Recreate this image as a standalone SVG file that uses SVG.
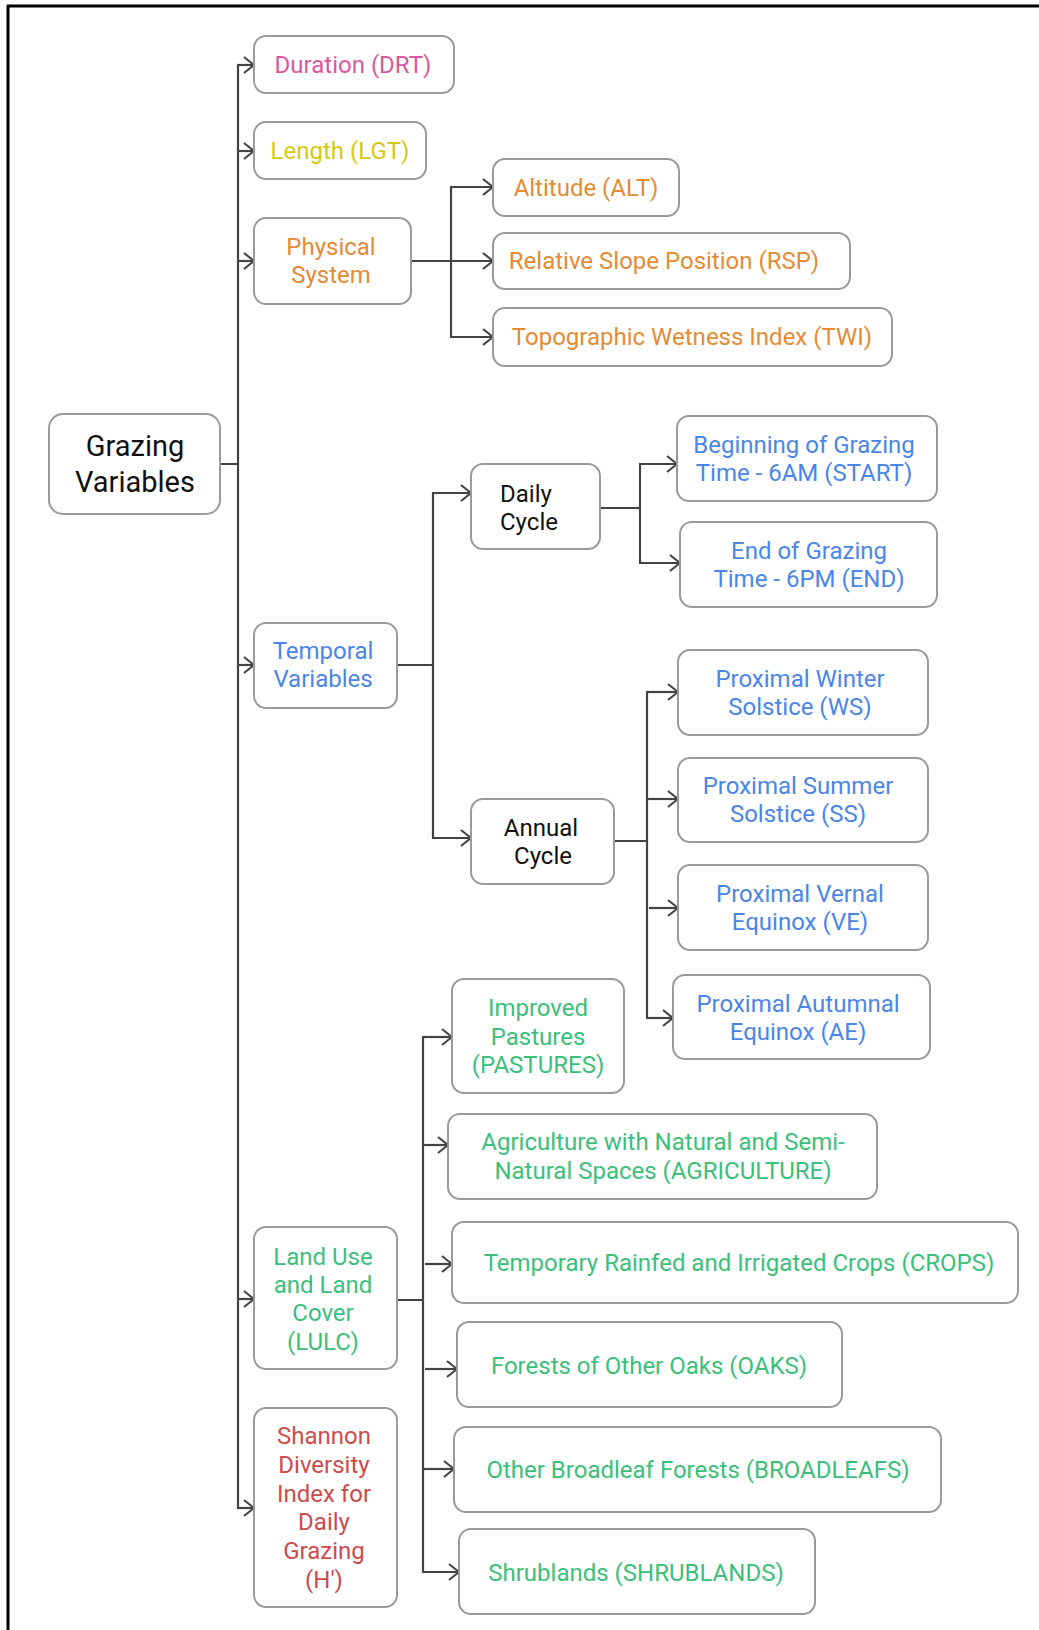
<svg xmlns="http://www.w3.org/2000/svg" width="1039" height="1630" viewBox="0 0 1039 1630">
<defs>
<style>
.box{fill:#fff;stroke:#9a9a9a;stroke-width:2}
.t{font-family:Roboto,"Liberation Sans",sans-serif;font-size:24px;text-anchor:middle}
.k{fill:#111}
.pink{fill:#d9589f}
.yel{fill:#d5c912}
.org{fill:#e38b35}
.blue{fill:#4a86e8}
.green{fill:#3bbf7a}
.red{fill:#cc4b4c}
.c{fill:none;stroke:#444;stroke-width:2.2}
.a{fill:none;stroke:#444;stroke-width:2.2;marker-end:url(#arr)}
</style>
<marker id="arr" markerUnits="userSpaceOnUse" viewBox="0 0 12 18" markerWidth="12" markerHeight="18" refX="11" refY="9" orient="auto">
<path d="M1,1 L11,9 L1,17" fill="none" stroke="#444" stroke-width="2.2"/>
</marker>
</defs>
<rect width="1039" height="1630" fill="#fff"/>
<g id="frame">
<path d="M7 6 H1039 M8 5 V1630" stroke="#000" stroke-width="3" fill="none"/>
</g>
<g id="connectors">
<path class="c" d="M220 464 H238 M238 65 V1508"/>
<path class="a" d="M237 65 H254"/>
<path class="a" d="M238 151 H254"/>
<path class="a" d="M238 261 H254"/>
<path class="a" d="M238 665 H254"/>
<path class="a" d="M238 1299 H254"/>
<path class="a" d="M237 1508 H254"/>
<path class="a" d="M411 261 H493"/>
<path class="c" d="M451 187 V337"/>
<path class="a" d="M450 187 H493"/>
<path class="a" d="M450 337 H493"/>
<path class="c" d="M397 665 H433 M433 493 V838"/>
<path class="a" d="M432 493 H471"/>
<path class="a" d="M432 838 H471"/>
<path class="c" d="M600 508 H640 M640 464 V563"/>
<path class="a" d="M639 464 H677"/>
<path class="a" d="M639 563 H680"/>
<path class="c" d="M614 841 H647 M647 692 V1018"/>
<path class="a" d="M646 692 H678"/>
<path class="a" d="M647 799 H678"/>
<path class="a" d="M649 908 H678"/>
<path class="a" d="M646 1018 H673"/>
<path class="c" d="M397 1300 H423 M423 1037 V1572"/>
<path class="a" d="M422 1037 H452"/>
<path class="a" d="M423 1145 H448"/>
<path class="a" d="M425 1264 H452"/>
<path class="a" d="M425 1369 H457"/>
<path class="a" d="M423 1469 H454"/>
<path class="a" d="M422 1572 H459"/>
</g>
<g id="grazing">
<rect class="box" x="49" y="414" width="171" height="100" rx="14"/>
<text class="t k" style="font-size:29px" x="135" y="456">Grazing</text>
<text class="t k" style="font-size:29px" x="135" y="492">Variables</text>
</g>
<g id="duration">
<rect class="box" x="254" y="36" width="200" height="57" rx="12"/>
<text class="t pink" x="353" y="73">Duration (DRT)</text>
</g>
<g id="length">
<rect class="box" x="254" y="122" width="172" height="57" rx="12"/>
<text class="t yel" x="340" y="159">Length (LGT)</text>
</g>
<g id="physical">
<rect class="box" x="254" y="218" width="157" height="86" rx="12"/>
<text class="t org" x="331" y="255">Physical</text>
<text class="t org" x="331" y="283">System</text>
</g>
<g id="altitude">
<rect class="box" x="493" y="159" width="186" height="57" rx="12"/>
<text class="t org" x="586" y="196">Altitude (ALT)</text>
</g>
<g id="rsp">
<rect class="box" x="493" y="233" width="357" height="56" rx="12"/>
<text class="t org" x="664" y="269">Relative Slope Position (RSP)</text>
</g>
<g id="twi">
<rect class="box" x="493" y="308" width="399" height="58" rx="12"/>
<text class="t org" x="692" y="345">Topographic Wetness Index (TWI)</text>
</g>
<g id="temporal">
<rect class="box" x="254" y="623" width="143" height="85" rx="12"/>
<text class="t blue" x="323" y="659">Temporal</text>
<text class="t blue" x="323" y="687">Variables</text>
</g>
<g id="daily">
<rect class="box" x="471" y="464" width="129" height="85" rx="12"/>
<text class="t k" style="text-anchor:start" x="500" y="502">Daily</text>
<text class="t k" style="text-anchor:start" x="500" y="530">Cycle</text>
</g>
<g id="start">
<rect class="box" x="677" y="416" width="260" height="85" rx="12"/>
<text class="t blue" x="804" y="453">Beginning of Grazing</text>
<text class="t blue" x="804" y="481">Time - 6AM (START)</text>
</g>
<g id="end">
<rect class="box" x="680" y="522" width="257" height="85" rx="12"/>
<text class="t blue" x="809" y="559">End of Grazing</text>
<text class="t blue" x="809" y="587">Time - 6PM (END)</text>
</g>
<g id="annual">
<rect class="box" x="471" y="799" width="143" height="85" rx="12"/>
<text class="t k" x="541" y="836">Annual</text>
<text class="t k" x="543" y="864">Cycle</text>
</g>
<g id="ws">
<rect class="box" x="678" y="650" width="250" height="85" rx="12"/>
<text class="t blue" x="800" y="687">Proximal Winter</text>
<text class="t blue" x="800" y="715">Solstice (WS)</text>
</g>
<g id="ss">
<rect class="box" x="678" y="758" width="250" height="84" rx="12"/>
<text class="t blue" x="798" y="794">Proximal Summer</text>
<text class="t blue" x="798" y="822">Solstice (SS)</text>
</g>
<g id="ve">
<rect class="box" x="678" y="865" width="250" height="85" rx="12"/>
<text class="t blue" x="800" y="902">Proximal Vernal</text>
<text class="t blue" x="800" y="930">Equinox (VE)</text>
</g>
<g id="ae">
<rect class="box" x="673" y="975" width="257" height="84" rx="12"/>
<text class="t blue" x="798" y="1012">Proximal Autumnal</text>
<text class="t blue" x="798" y="1040">Equinox (AE)</text>
</g>
<g id="lulc">
<rect class="box" x="254" y="1227" width="143" height="142" rx="12"/>
<text class="t green" x="323" y="1265">Land Use</text>
<text class="t green" x="323" y="1293">and Land</text>
<text class="t green" x="323" y="1321">Cover</text>
<text class="t green" x="323" y="1350">(LULC)</text>
</g>
<g id="shannon">
<rect class="box" x="254" y="1408" width="143" height="199" rx="12"/>
<text class="t red" x="324" y="1444">Shannon</text>
<text class="t red" x="324" y="1473">Diversity</text>
<text class="t red" x="324" y="1502">Index for</text>
<text class="t red" x="324" y="1530">Daily</text>
<text class="t red" x="324" y="1559">Grazing</text>
<text class="t red" x="324" y="1588">(H')</text>
</g>
<g id="pastures">
<rect class="box" x="452" y="979" width="172" height="114" rx="12"/>
<text class="t green" x="538" y="1016">Improved</text>
<text class="t green" x="538" y="1045">Pastures</text>
<text class="t green" x="538" y="1073">(PASTURES)</text>
</g>
<g id="agriculture">
<rect class="box" x="448" y="1114" width="429" height="85" rx="12"/>
<text class="t green" x="663" y="1150">Agriculture with Natural and Semi-</text>
<text class="t green" x="663" y="1179">Natural Spaces (AGRICULTURE)</text>
</g>
<g id="crops">
<rect class="box" x="452" y="1222" width="566" height="81" rx="12"/>
<text class="t green" x="739" y="1271">Temporary Rainfed and Irrigated Crops (CROPS)</text>
</g>
<g id="oaks">
<rect class="box" x="457" y="1322" width="385" height="85" rx="12"/>
<text class="t green" x="649" y="1374">Forests of Other Oaks (OAKS)</text>
</g>
<g id="broadleafs">
<rect class="box" x="454" y="1427" width="487" height="85" rx="12"/>
<text class="t green" x="698" y="1478">Other Broadleaf Forests (BROADLEAFS)</text>
</g>
<g id="shrublands">
<rect class="box" x="459" y="1529" width="356" height="85" rx="12"/>
<text class="t green" x="636" y="1581">Shrublands (SHRUBLANDS)</text>
</g>
</svg>
